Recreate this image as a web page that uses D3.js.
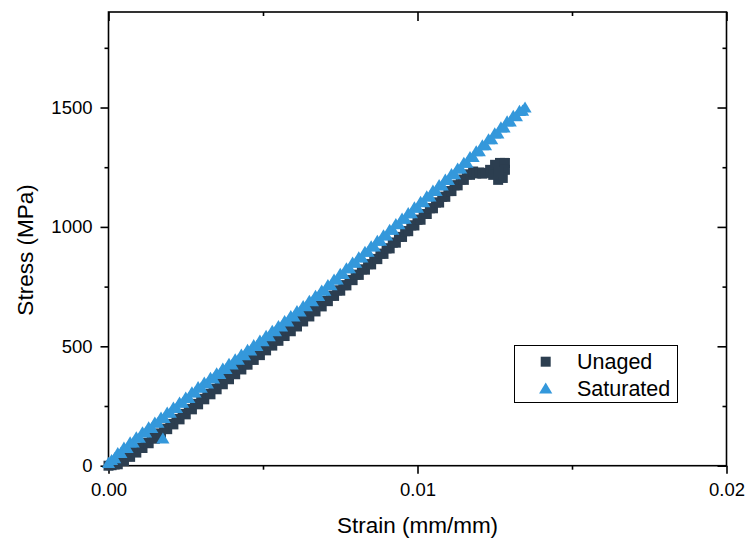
<!DOCTYPE html>
<html>
<head>
<meta charset="utf-8">
<script src="https://cdn.jsdelivr.net/npm/d3@7"></script>
<style>
  html, body { margin: 0; padding: 0; background: #fff; }
  svg { display: block; }
  text { font-family: "Liberation Sans", Arial, sans-serif; fill: #000; }
</style>
</head>
<body>
<svg id="chart" width="746" height="538"></svg>
<script>
// ---- data ----
const xMajorTicks = [0, 0.01, 0.02];
const xMinorTicks = [0.005, 0.015];
const yMajorTicks = [0, 500, 1000, 1500];
const yMinorTicks = [250, 750, 1250, 1750];

const seriesNames = ["Unaged", "Saturated"];
const seriesColors = ["#2C3E50", "#3498DB"];

const unagedStrain = [
  0, 0.0001, 0.0002, 0.0003, 0.0004, 0.0005, 0.0006, 0.0007, 0.0008, 0.0009,
  0.0010, 0.0011, 0.0012, 0.0013, 0.0014, 0.0015, 0.0016, 0.0017, 0.0018, 0.0019,
  0.0020, 0.0021, 0.0022, 0.0023, 0.0024, 0.0025, 0.0026, 0.0027, 0.0028, 0.0029,
  0.0030, 0.0031, 0.0032, 0.0033, 0.0034, 0.0035, 0.0036, 0.0037, 0.0038, 0.0039,
  0.0040, 0.0041, 0.0042, 0.0043, 0.0044, 0.0045, 0.0046, 0.0047, 0.0048, 0.0049,
  0.0050, 0.0051, 0.0052, 0.0053, 0.0054, 0.0055, 0.0056, 0.0057, 0.0058, 0.0059,
  0.0060, 0.0061, 0.0062, 0.0063, 0.0064, 0.0065, 0.0066, 0.0067, 0.0068, 0.0069,
  0.0070, 0.0071, 0.0072, 0.0073, 0.0074, 0.0075, 0.0076, 0.0077, 0.0078, 0.0079,
  0.0080, 0.0081, 0.0082, 0.0083, 0.0084, 0.0085, 0.0086, 0.0087, 0.0088, 0.0089,
  0.0090, 0.0091, 0.0092, 0.0093, 0.0094, 0.0095, 0.0096, 0.0097, 0.0098, 0.0099,
  0.0100, 0.0101, 0.0102, 0.0103, 0.0104, 0.0105, 0.0106, 0.0107, 0.0108, 0.0109,
  0.0110, 0.0111, 0.0112, 0.0113, 0.0114, 0.0115, 0.0116, 0.0117, 0.0118, 0.0119,
  0.0120, 0.0121, 0.0122,
  0.01235, 0.01251, 0.01267, 0.01283, 0.01283, 0.01276, 0.01261, 0.01245, 0.01262];
const unagedStress = [
  0, 2, 5, 6, 22, 19, 40, 37, 58, 55,
  76, 74, 96, 94, 116, 113, 135, 133, 155, 153,
  175, 173, 196, 194, 217, 215, 238, 236, 259, 257,
  280, 278, 301, 299, 322, 320, 343, 341, 364, 362,
  385, 383, 405, 403, 425, 423, 445, 443, 465, 463,
  485, 483, 505, 503, 525, 523, 545, 543, 565, 563,
  585, 583, 606, 604, 627, 625, 648, 646, 669, 667,
  690, 689, 712, 711, 734, 733, 756, 755, 778, 777,
  800, 799, 822, 821, 844, 843, 866, 865, 888, 887,
  910, 910, 934, 934, 958, 958, 982, 982, 1006, 1006,
  1030, 1030, 1054, 1054, 1078, 1078, 1102, 1102, 1126, 1126,
  1150, 1150, 1174, 1174, 1198, 1197, 1220, 1218, 1232, 1224,
  1228, 1223, 1226,
  1239, 1260, 1268, 1268, 1239, 1205, 1197, 1218, 1230];

const saturatedStrain = [
  0, 0.0001, 0.0002, 0.0003, 0.0004, 0.0005, 0.0006, 0.0007, 0.0008, 0.0009,
  0.0010, 0.0011, 0.0012, 0.0013, 0.0014, 0.0015, 0.0016, 0.0017, 0.0018, 0.0019,
  0.0020, 0.0021, 0.0022, 0.0023, 0.0024, 0.0025, 0.0026, 0.0027, 0.0028, 0.0029,
  0.0030, 0.0031, 0.0032, 0.0033, 0.0034, 0.0035, 0.0036, 0.0037, 0.0038, 0.0039,
  0.0040, 0.0041, 0.0042, 0.0043, 0.0044, 0.0045, 0.0046, 0.0047, 0.0048, 0.0049,
  0.0050, 0.0051, 0.0052, 0.0053, 0.0054, 0.0055, 0.0056, 0.0057, 0.0058, 0.0059,
  0.0060, 0.0061, 0.0062, 0.0063, 0.0064, 0.0065, 0.0066, 0.0067, 0.0068, 0.0069,
  0.0070, 0.0071, 0.0072, 0.0073, 0.0074, 0.0075, 0.0076, 0.0077, 0.0078, 0.0079,
  0.0080, 0.0081, 0.0082, 0.0083, 0.0084, 0.0085, 0.0086, 0.0087, 0.0088, 0.0089,
  0.0090, 0.0091, 0.0092, 0.0093, 0.0094, 0.0095, 0.0096, 0.0097, 0.0098, 0.0099,
  0.0100, 0.0101, 0.0102, 0.0103, 0.0104, 0.0105, 0.0106, 0.0107, 0.0108, 0.0109,
  0.0110, 0.0111, 0.0112, 0.0113, 0.0114, 0.0115, 0.0116, 0.0117, 0.0118, 0.0119,
  0.0120, 0.0121, 0.0122, 0.0123, 0.0124, 0.0125, 0.0126, 0.0127, 0.0128, 0.0129,
  0.0130, 0.0131, 0.0132, 0.0133, 0.0134, 0.01348, 0.00176];
const saturatedStress = [
  10, 22, 30, 51, 52, 74, 72, 96, 95, 117,
  115, 138, 137, 159, 156, 179, 178, 200, 198, 221,
  220, 242, 240, 263, 262, 284, 282, 306, 305, 327,
  325, 346, 343, 366, 364, 385, 382, 405, 403, 425,
  422, 444, 442, 464, 461, 483, 481, 503, 500, 522,
  520, 542, 540, 563, 561, 583, 581, 604, 602, 625,
  623, 646, 644, 667, 666, 689, 687, 710, 709, 732,
  731, 755, 754, 778, 778, 802, 801, 825, 825, 849,
  848, 871, 870, 894, 894, 917, 916, 940, 940, 963,
  962, 986, 986, 1010, 1009, 1033, 1032, 1056, 1056, 1080,
  1079, 1103, 1102, 1126, 1126, 1150, 1149, 1173, 1172, 1196,
  1195, 1219, 1219, 1243, 1243, 1267, 1267, 1291, 1291, 1315,
  1315, 1340, 1340, 1365, 1365, 1390, 1390, 1415, 1415, 1440,
  1440, 1463, 1462, 1484, 1485, 1498, 112];

const xTitle = "Strain (mm/mm)";
const yTitle = "Stress (MPa)";

// ---- layout ----
const svg = d3.select("#chart");
const L = 108.5, R = 726.5, T = 12, B = 465.7;

const x = d3.scaleLinear().domain([0, 0.02]).range([L, R]);
const y = d3.scaleLinear().domain([0, 1900]).range([B, T]);

const axisColor = "#000";
const lw = 1.6;

function styleAxis(g) {
  g.select(".domain").remove();
  g.selectAll(".tick line").attr("stroke", axisColor).attr("stroke-width", lw);
}

// bottom major
svg.append("g").attr("transform", `translate(0,${B})`)
  .call(d3.axisBottom(x).tickValues(xMajorTicks).tickFormat(d3.format(".2f")).tickSize(8).tickPadding(9))
  .call(styleAxis)
  .call(g => g.selectAll("text").attr("font-size", 18.5).attr("font-family", "Liberation Sans, Arial, sans-serif"));
// bottom minor
svg.append("g").attr("transform", `translate(0,${B})`)
  .call(d3.axisBottom(x).tickValues(xMinorTicks).tickFormat("").tickSize(4))
  .call(styleAxis);
// top (inward)
svg.append("g").attr("transform", `translate(0,${T})`)
  .call(d3.axisBottom(x).tickValues(xMajorTicks).tickFormat("").tickSize(9))
  .call(styleAxis);
svg.append("g").attr("transform", `translate(0,${T})`)
  .call(d3.axisBottom(x).tickValues(xMinorTicks).tickFormat("").tickSize(4))
  .call(styleAxis);
// left major
svg.append("g").attr("transform", `translate(${L},0)`)
  .call(d3.axisLeft(y).tickValues(yMajorTicks).tickFormat(d3.format("d")).tickSize(8).tickPadding(8))
  .call(styleAxis)
  .call(g => g.selectAll("text").attr("font-size", 18.5).attr("font-family", "Liberation Sans, Arial, sans-serif"));
svg.append("g").attr("transform", `translate(${L},0)`)
  .call(d3.axisLeft(y).tickValues(yMinorTicks).tickFormat("").tickSize(4))
  .call(styleAxis);
// right (inward)
svg.append("g").attr("transform", `translate(${R},0)`)
  .call(d3.axisLeft(y).tickValues(yMajorTicks).tickFormat("").tickSize(9))
  .call(styleAxis);
svg.append("g").attr("transform", `translate(${R},0)`)
  .call(d3.axisLeft(y).tickValues(yMinorTicks).tickFormat("").tickSize(4))
  .call(styleAxis);

// frame
svg.append("rect").attr("x", L).attr("y", T).attr("width", R - L).attr("height", B - T)
  .attr("fill", "none").attr("stroke", axisColor).attr("stroke-width", lw);

// ---- markers ----
const squarePath = "M-5,-5H5V5H-5Z";
const trianglePath = "M0,-6.5L6.6,4.6L-6.6,4.6Z";

const unaged = unagedStrain.map((s, i) => ({ x: s, y: unagedStress[i] }));
const saturated = saturatedStrain.map((s, i) => ({ x: s, y: saturatedStress[i] }));

const plot = svg.append("g");
plot.selectAll("path.unaged").data(unaged).join("path")
  .attr("class", "unaged")
  .attr("d", squarePath)
  .attr("transform", d => `translate(${x(d.x)},${y(d.y)})`)
  .attr("fill", seriesColors[0]);

plot.selectAll("path.saturated").data(saturated).join("path")
  .attr("class", "saturated")
  .attr("d", trianglePath)
  .attr("transform", d => `translate(${x(d.x)},${y(d.y)})`)
  .attr("fill", seriesColors[1]);

// ---- titles ----
svg.append("text").attr("x", (L + R) / 2).attr("y", 533).attr("text-anchor", "middle")
  .attr("font-size", 22.5).text(xTitle);
svg.append("text").attr("transform", `translate(33,250) rotate(-90)`).attr("text-anchor", "middle")
  .attr("font-size", 22.5).text(yTitle);

// ---- legend ----
const lg = svg.append("g");
lg.append("rect").attr("x", 514.5).attr("y", 345.5).attr("width", 163).attr("height", 57)
  .attr("fill", "#fff").attr("stroke", "#000").attr("stroke-width", 1);
const legendShapes = [squarePath, trianglePath];
const legendRows = [361.7, 389];
seriesNames.forEach((name, i) => {
  lg.append("path").attr("d", legendShapes[i])
    .attr("transform", `translate(545.7,${legendRows[i]})`)
    .attr("fill", seriesColors[i]);
  lg.append("text").attr("x", 577).attr("y", legendRows[i] + 7.3)
    .attr("font-size", 21.5).text(name);
});
</script>
</body>
</html>
